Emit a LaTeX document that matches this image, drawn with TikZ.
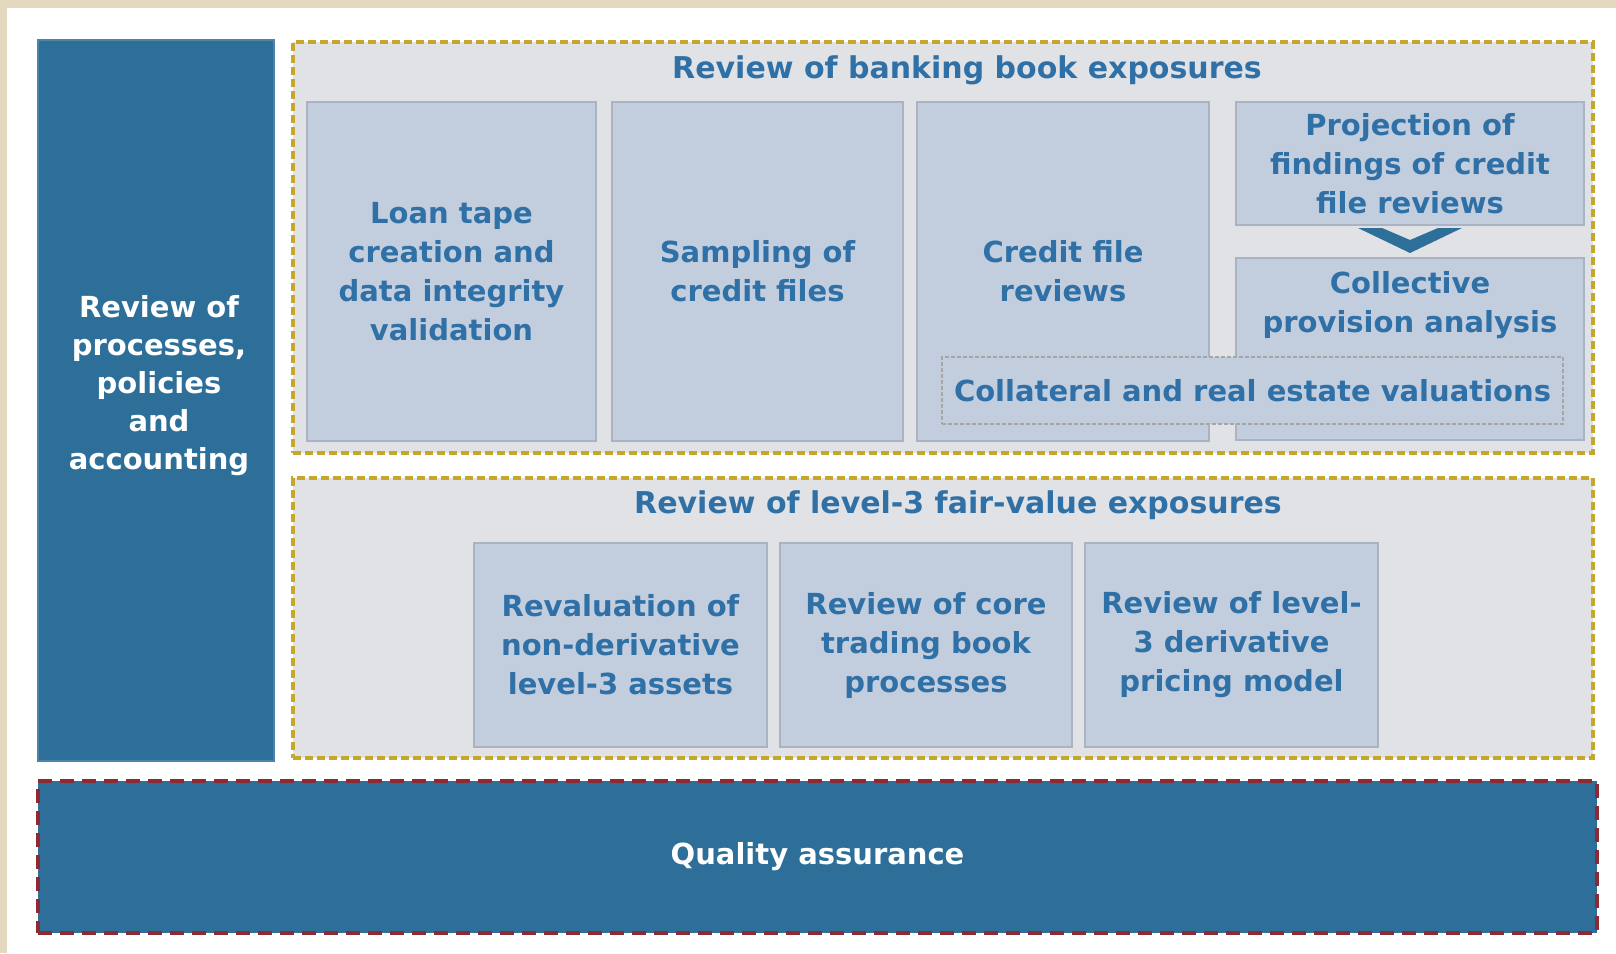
\documentclass[tikz,border=0pt]{standalone}
\usepackage{fontspec}
\setmainfont{DejaVu Sans}
\usetikzlibrary{positioning}

\definecolor{qblue}{HTML}{2E6F9A}
\definecolor{boxfill}{HTML}{C2CDDE}
\definecolor{boxline}{HTML}{A9B3C1}
\definecolor{panelfill}{HTML}{E1E2E5}
\definecolor{gold}{HTML}{C4A72B}
\definecolor{darkred}{HTML}{8C2B34}
\definecolor{txtblue}{HTML}{2F70A6}
\definecolor{beige}{HTML}{E4D9BF}

\begin{document}
\begin{tikzpicture}[
  x=1pt, y=-1pt,
  every node/.style={inner sep=0pt, outer sep=0pt, align=center,
    font=\fontsize{29}{39}\selectfont\bfseries},
  darkbox/.style={rectangle, fill=qblue, draw=qblue!85!white, line width=2pt, text=white},
  panel/.style={rectangle, fill=panelfill, draw=gold, line width=4pt,
    dash pattern=on 8pt off 4pt},
  stage/.style={rectangle, fill=boxfill, draw=boxline, line width=2.5pt, text=txtblue},
  heading/.style={text=txtblue, font=\fontsize{30}{39}\selectfont\bfseries}
]

% frame
\fill[beige] (0,0) rectangle (1616,953);
\fill[white] (7,8) rectangle (1616,953);
\useasboundingbox (0,0) rectangle (1616,953);

% left column and bottom band
\node[darkbox, minimum width=236, minimum height=721] (proc) at (156,400.5) {};
\node[text=white, font=\fontsize{29}{38}\selectfont\bfseries] (proc_txt) at (159,386)
  {Review of\\processes,\\policies\\and\\accounting};
\node[darkbox, draw=darkred, line width=4.5pt, dash pattern=on 14pt off 8pt,
  minimum width=1559, minimum height=152] (qa) at (817.5,857) {Quality assurance};

% banking book
\node[panel, minimum width=1300, minimum height=411] (bank) at (943,247.5) {};
\node[heading] (bank_ttl) at (967,70) {Review of banking book exposures};

\node[stage, minimum width=289, minimum height=339] (tape) at (451.5,271.5)
  {Loan tape\\creation and\\data integrity\\validation};
\node[stage, minimum width=291, minimum height=339, right=16pt of tape] (smp)
  {Sampling of\\credit files};
\node[stage, minimum width=292, minimum height=339, right=14pt of smp] (cfr)
  {Credit file\\reviews};
\node[stage, minimum width=348, minimum height=123] (prj) at (1410,163.5)
  {Projection of\\findings of credit\\file reviews};
\node[stage, minimum width=348, minimum height=182] (cpa) at (1410,349) {};
\node[text=txtblue] (cpa_txt) at (1410,305) {Collective\\provision analysis};

\fill[qblue] (1358,228) -- (1382,228) -- (1410,240) -- (1438,228) -- (1462,228)
  -- (1410,253) -- cycle;

\node[rectangle, fill=boxfill, draw=gray!70, line width=1.5pt,
  dash pattern=on 4pt off 2pt, minimum width=621, minimum height=67, text=txtblue]
  (coll) at (1252.5,390.5) {Collateral and real estate valuations};

% level-3 fair value
\node[panel, minimum width=1300, minimum height=280] (fair) at (943,618) {};
\node[heading] (fair_ttl) at (958,505) {Review of level-3 fair-value exposures};

\node[stage, minimum width=293, minimum height=204] (reval) at (620.5,645)
  {Revaluation of\\non-derivative\\level-3 assets};
\node[stage, minimum width=292, minimum height=204, right=13pt of reval] (core)
  {Review of core\\trading book\\processes};
\node[stage, minimum width=293, minimum height=204, right=13pt of core] (deriv)
  {Review of level-\\3 derivative\\pricing model};

\end{tikzpicture}
\end{document}
